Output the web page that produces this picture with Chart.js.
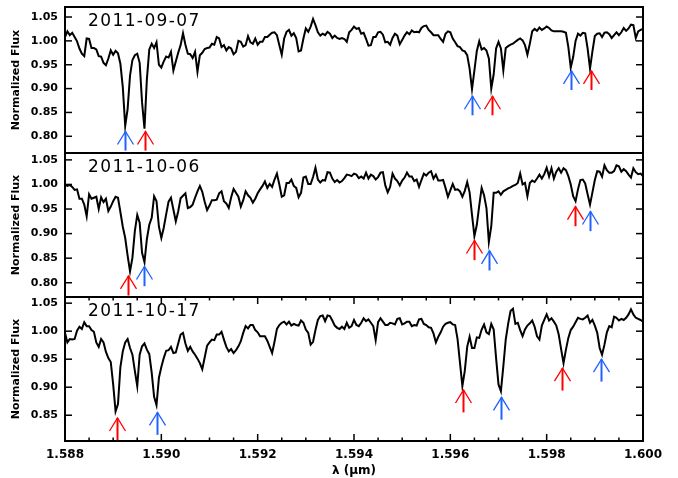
<!DOCTYPE html>
<html>
<head>
<meta charset="utf-8">
<script src="https://cdn.jsdelivr.net/npm/chart.js@4/dist/chart.umd.min.js"></script>
<style>
  html, body { margin: 0; padding: 0; background: #fff; }
  canvas { display: block; }
</style>
</head>
<body>
<canvas id="spectra" width="678" height="478"></canvas>
<script>
// wavelength grid (micron), shared by the three epochs
const wavelength = [
  1.58800, 1.58805, 1.58810, 1.58815, 1.58820, 1.58825, 1.58830, 1.58835, 1.58840, 1.58845, 1.58850, 1.58855, 1.58860, 1.58865, 1.58870, 1.58875, 1.58880, 1.58885, 1.58890, 1.58895,
  1.58900, 1.58905, 1.58910, 1.58915, 1.58920, 1.58925, 1.58930, 1.58935, 1.58940, 1.58945, 1.58950, 1.58955, 1.58960, 1.58965, 1.58970, 1.58975, 1.58980, 1.58985, 1.58990, 1.58995,
  1.59000, 1.59005, 1.59010, 1.59015, 1.59020, 1.59025, 1.59030, 1.59035, 1.59040, 1.59045, 1.59050, 1.59055, 1.59060, 1.59065, 1.59070, 1.59075, 1.59080, 1.59085, 1.59090, 1.59095,
  1.59100, 1.59105, 1.59110, 1.59115, 1.59120, 1.59125, 1.59130, 1.59135, 1.59140, 1.59145, 1.59150, 1.59155, 1.59160, 1.59165, 1.59170, 1.59175, 1.59180, 1.59185, 1.59190, 1.59195,
  1.59200, 1.59205, 1.59210, 1.59215, 1.59220, 1.59225, 1.59230, 1.59235, 1.59240, 1.59245, 1.59250, 1.59255, 1.59260, 1.59265, 1.59270, 1.59275, 1.59280, 1.59285, 1.59290, 1.59295,
  1.59300, 1.59305, 1.59310, 1.59315, 1.59320, 1.59325, 1.59330, 1.59335, 1.59340, 1.59345, 1.59350, 1.59355, 1.59360, 1.59365, 1.59370, 1.59375, 1.59380, 1.59385, 1.59390, 1.59395,
  1.59400, 1.59405, 1.59410, 1.59415, 1.59420, 1.59425, 1.59430, 1.59435, 1.59440, 1.59445, 1.59450, 1.59455, 1.59460, 1.59465, 1.59470, 1.59475, 1.59480, 1.59485, 1.59490, 1.59495,
  1.59500, 1.59505, 1.59510, 1.59515, 1.59520, 1.59525, 1.59530, 1.59535, 1.59540, 1.59545, 1.59550, 1.59555, 1.59560, 1.59565, 1.59570, 1.59575, 1.59580, 1.59585, 1.59590, 1.59595,
  1.59600, 1.59605, 1.59610, 1.59615, 1.59620, 1.59625, 1.59630, 1.59635, 1.59640, 1.59645, 1.59650, 1.59655, 1.59660, 1.59665, 1.59670, 1.59675, 1.59680, 1.59685, 1.59690, 1.59695,
  1.59700, 1.59705, 1.59710, 1.59715, 1.59720, 1.59725, 1.59730, 1.59735, 1.59740, 1.59745, 1.59750, 1.59755, 1.59760, 1.59765, 1.59770, 1.59775, 1.59780, 1.59785, 1.59790, 1.59795,
  1.59800, 1.59805, 1.59810, 1.59815, 1.59820, 1.59825, 1.59830, 1.59835, 1.59840, 1.59845, 1.59850, 1.59855, 1.59860, 1.59865, 1.59870, 1.59875, 1.59880, 1.59885, 1.59890, 1.59895,
  1.59900, 1.59905, 1.59910, 1.59915, 1.59920, 1.59925, 1.59930, 1.59935, 1.59940, 1.59945, 1.59950, 1.59955, 1.59960, 1.59965, 1.59970, 1.59975, 1.59980, 1.59985, 1.59990, 1.59995,
  1.60000
];

// normalized flux, 2011-09-07
const flux0907 = [
  1.008, 1.020, 1.012, 1.017, 1.008, 0.999, 0.984, 0.973, 0.968, 1.005,
  1.004, 0.985, 0.985, 0.982, 0.968, 0.967, 0.954, 0.949, 0.963, 0.980,
  0.971, 0.979, 0.974, 0.952, 0.903, 0.822, 0.857, 0.927, 0.960, 0.970,
  0.973, 0.954, 0.871, 0.816, 0.920, 0.982, 0.994, 0.985, 0.997, 0.950,
  0.944, 0.957, 0.967, 0.965, 0.977, 0.938, 0.957, 0.975, 0.991, 1.016,
  0.992, 0.973, 0.972, 0.964, 0.977, 0.935, 0.970, 0.975, 0.983, 0.985,
  0.986, 0.994, 0.992, 1.008, 1.005, 0.987, 0.991, 0.980, 0.987, 0.984,
  0.972, 0.977, 1.000, 0.998, 0.988, 0.991, 1.010, 0.997, 0.994, 1.005,
  0.992, 0.998, 0.998, 1.008, 1.008, 1.013, 1.017, 1.018, 1.012, 0.991,
  0.971, 1.005, 1.019, 1.023, 1.011, 1.016, 1.006, 0.978, 0.980, 1.005,
  1.026, 1.019, 1.030, 1.046, 1.033, 1.018, 1.011, 1.015, 1.012, 1.019,
  1.015, 1.006, 1.011, 1.006, 1.004, 1.006, 1.004, 0.998, 1.018, 1.023,
  1.030, 1.025, 1.027, 1.015, 1.017, 1.004, 0.990, 0.991, 1.008, 1.008,
  1.018, 1.019, 1.013, 0.997, 0.998, 0.992, 1.006, 1.015, 1.011, 0.993,
  1.002, 1.011, 1.018, 1.014, 1.022, 1.018, 1.019, 1.018, 1.027, 1.031,
  1.032, 1.023, 1.018, 1.012, 1.012, 1.012, 1.004, 0.998, 1.015, 1.020,
  1.018, 1.005, 0.997, 0.989, 0.987, 0.980, 0.978, 0.970, 0.942, 0.899,
  0.938, 0.979, 0.999, 0.982, 0.985, 0.980, 0.963, 0.900, 0.930, 0.984,
  0.998, 0.984, 0.938, 0.985, 0.989, 0.992, 0.994, 0.998, 1.002, 1.005,
  1.001, 0.991, 0.971, 0.994, 1.020, 1.025, 1.021, 1.028, 1.023, 1.026,
  1.030, 1.027, 1.022, 1.020, 1.020, 1.020, 1.020, 1.019, 1.017, 0.987,
  0.944, 0.966, 1.000, 1.015, 1.011, 1.017, 1.016, 0.984, 0.942, 0.978,
  1.010, 1.015, 1.016, 1.008, 1.017, 1.018, 1.014, 1.006, 1.012, 1.018,
  1.012, 1.018, 1.027, 1.021, 1.026, 1.034, 1.033, 1.006, 1.020, 1.023, 1.025
];

// normalized flux, 2011-10-06
const flux1006 = [
  1.000, 0.997, 0.999, 0.995, 0.989, 0.990, 0.971, 0.971, 0.959, 0.935,
  0.980, 0.971, 0.973, 0.975, 0.950, 0.974, 0.964, 0.971, 0.946, 0.955,
  0.966, 0.975, 0.973, 0.944, 0.914, 0.891, 0.855, 0.823, 0.851, 0.905,
  0.938, 0.922, 0.861, 0.842, 0.889, 0.918, 0.932, 0.976, 0.966, 0.914,
  0.891, 0.912, 0.939, 0.965, 0.973, 0.949, 0.925, 0.945, 0.972, 0.977,
  0.982, 0.952, 0.954, 0.959, 0.973, 0.986, 0.997, 0.985, 0.965, 0.948,
  0.957, 0.968, 0.968, 0.969, 0.982, 0.986, 0.966, 0.961, 0.952, 0.974,
  0.991, 0.983, 0.975, 0.955, 0.968, 0.986, 0.978, 0.973, 0.963, 0.971,
  0.982, 0.990, 0.997, 1.006, 0.993, 1.001, 0.995, 1.010, 1.022, 1.000,
  0.975, 0.978, 1.003, 1.003, 1.010, 0.997, 0.993, 0.974, 0.983, 1.014,
  1.016, 1.001, 1.001, 1.015, 1.034, 1.010, 1.004, 1.009, 1.008, 1.025,
  1.024, 1.012, 1.005, 1.009, 1.004, 1.007, 1.013, 1.020, 1.019, 1.017,
  1.022, 1.020, 1.013, 1.016, 1.012, 1.024, 1.012, 1.020, 1.017, 1.010,
  1.015, 1.024, 1.025, 0.998, 0.984, 0.995, 1.022, 1.012, 1.007, 0.998,
  1.008, 1.014, 1.024, 1.016, 1.016, 1.007, 1.010, 0.995, 1.009, 1.022,
  1.018, 1.024, 1.027, 1.012, 1.020, 1.008, 1.008, 1.009, 0.993, 0.975,
  0.988, 1.001, 0.989, 0.990, 0.986, 0.975, 0.987, 1.005, 0.984, 0.938,
  0.895, 0.918, 0.957, 0.993, 0.978, 0.952, 0.883, 0.915, 0.983, 0.983,
  0.986, 0.979, 0.986, 0.989, 0.992, 0.994, 0.997, 0.999, 1.003, 1.022,
  1.000, 1.003, 0.976, 1.003, 1.008, 1.005, 1.012, 1.020, 1.012, 1.021,
  1.034, 1.016, 1.033, 1.012, 1.026, 1.033, 1.024, 1.033, 1.029, 1.017,
  1.000, 0.976, 0.966, 0.990, 1.009, 1.010, 1.002, 0.980, 0.959, 0.984,
  1.009, 1.027, 1.026, 1.016, 1.039, 1.029, 1.024, 1.024, 1.027, 1.039,
  1.037, 1.026, 1.031, 1.027, 1.020, 1.014, 1.033, 1.025, 1.021, 1.022, 1.017
];

// normalized flux, 2011-10-17
const flux1017 = [
  0.997, 0.980, 0.986, 0.985, 0.986, 1.001, 1.008, 1.004, 1.016, 1.009,
  1.009, 1.002, 0.999, 0.980, 0.972, 0.986, 0.980, 0.963, 0.952, 0.945,
  0.905, 0.857, 0.870, 0.936, 0.964, 0.980, 0.986, 0.970, 0.958, 0.929,
  0.902, 0.958, 0.973, 0.978, 0.967, 0.959, 0.926, 0.883, 0.868, 0.917,
  0.936, 0.952, 0.965, 0.966, 0.972, 0.961, 0.962, 0.978, 0.994, 0.997,
  0.978, 0.965, 0.972, 0.964, 0.958, 0.951, 0.943, 0.932, 0.953, 0.974,
  0.980, 0.985, 0.984, 0.994, 0.994, 0.999, 0.985, 0.972, 0.964, 0.968,
  0.961, 0.966, 0.973, 0.982, 0.997, 1.009, 1.005, 1.011, 1.011, 1.002,
  0.998, 0.991, 0.991, 0.991, 0.983, 0.972, 0.961, 0.981, 1.004, 1.011,
  1.015, 1.017, 1.012, 1.017, 1.010, 1.013, 1.011, 1.010, 1.019, 1.015,
  1.003, 0.997, 0.976, 0.981, 1.002, 1.020, 1.027, 1.028, 1.018, 1.028,
  1.027, 1.019, 1.010, 1.006, 1.004, 1.008, 1.004, 1.015, 1.006, 1.009,
  1.020, 1.011, 1.009, 1.015, 1.023, 1.018, 1.021, 1.015, 1.009, 0.984,
  1.016, 1.023, 1.017, 1.011, 1.011, 1.015, 1.014, 1.012, 1.022, 1.023,
  1.012, 1.014, 1.017, 1.017, 1.009, 1.011, 1.010, 1.021, 1.022, 1.013,
  1.011, 1.007, 1.006, 0.996, 0.980, 0.990, 0.998, 1.008, 1.013, 1.015,
  1.016, 1.012, 1.011, 0.986, 0.944, 0.902, 0.929, 0.972, 0.990, 0.970,
  0.970, 0.989, 0.988, 1.003, 1.012, 0.998, 0.995, 1.013, 1.003, 0.952,
  0.905, 0.893, 0.937, 0.985, 1.013, 1.036, 1.040, 1.013, 1.015, 1.002,
  0.991, 1.003, 1.010, 1.014, 1.019, 1.008, 0.991, 0.985, 1.010, 1.020,
  1.030, 1.019, 1.023, 1.017, 1.010, 0.994, 0.968, 0.943, 0.967, 0.988,
  1.002, 1.008, 1.016, 1.024, 1.022, 1.021, 1.024, 1.028, 1.015, 1.020,
  1.010, 0.997, 0.970, 0.958, 0.976, 0.998, 1.009, 1.007, 1.026, 1.024,
  1.019, 1.022, 1.020, 1.024, 1.030, 1.039, 1.030, 1.024, 1.022, 1.020, 1.017
];

const panelDates = ['2011-09-07', '2011-10-06', '2011-10-17'];
const panelFlux = [flux0907, flux1006, flux1017];
const yRanges = [[0.765, 1.071], [0.771, 1.064], [0.804, 1.061]];
const yTicks = [
  [0.80, 0.85, 0.90, 0.95, 1.00, 1.05],
  [0.80, 0.85, 0.90, 0.95, 1.00, 1.05],
  [0.85, 0.90, 0.95, 1.00, 1.05]
];
const xTicks = [1.588, 1.590, 1.592, 1.594, 1.596, 1.598, 1.600];

// line-marking arrows: wavelength, flux at the arrow tip, colour
const arrowLambda = [
  [1.58925, 1.58966, 1.59645, 1.59686, 1.59850, 1.59892],
  [1.58931, 1.58964, 1.59649, 1.59680, 1.59859, 1.59890],
  [1.58908, 1.58991, 1.59626, 1.59705, 1.59832, 1.59913]
];
const arrowTip = [
  [0.810, 0.810, 0.884, 0.884, 0.937, 0.937],
  [0.814, 0.833, 0.886, 0.865, 0.955, 0.945],
  [0.845, 0.855, 0.895, 0.882, 0.934, 0.950]
];
const arrowColor = [
  ['blue', 'red', 'blue', 'red', 'blue', 'red'],
  ['red', 'blue', 'red', 'blue', 'red', 'blue'],
  ['red', 'blue', 'red', 'blue', 'red', 'blue']
];
const arrowLength = 0.04;

const RED = '#ff0000';
const BLUE = '#1f62ff';
const panelIds = ['y1', 'y2', 'y3'];

const tickFont = { family: 'DejaVu Sans', weight: 'bold', size: 11 };

function yScale(p, weight) {
  return {
    type: 'linear',
    position: 'left',
    stack: 'panels',
    stackWeight: weight,
    min: yRanges[p][0],
    max: yRanges[p][1],
    grid: { display: false, drawTicks: false },
    border: { display: false },
    afterBuildTicks: s => { s.ticks = yTicks[p].map(v => ({ value: v })); },
    afterFit: s => {
      s.width = 65;
      // labels sit well inside the panel, no extra room needed above/below
      s.paddingTop = 0;
      s.paddingBottom = 0;
    },
    ticks: {
      color: '#000',
      padding: 7,
      autoSkip: false,
      font: tickFont,
      callback: v => v.toFixed(2)
    },
    title: {
      display: true,
      text: 'Normalized Flux',
      color: '#000',
      font: { family: 'DejaVu Sans', weight: 'bold', size: 11 },
      padding: { top: 10, bottom: 0 }
    }
  };
}

function line(ctx, x1, y1, x2, y2) {
  ctx.beginPath();
  ctx.moveTo(x1, y1);
  ctx.lineTo(x2, y2);
  ctx.stroke();
}

const overlay = {
  id: 'overlay',
  afterDatasetsDraw(chart) {
    const ctx = chart.ctx;
    const area = chart.chartArea;
    const xs = chart.scales.x;
    ctx.save();

    panelIds.forEach((id, p) => {
      const ys = chart.scales[id];

      // arrows
      arrowLambda[p].forEach((lam, i) => {
        const px = Math.round(xs.getPixelForValue(lam)) + 0.5;
        const top = ys.getPixelForValue(arrowTip[p][i]);
        const bottom = ys.getPixelForValue(arrowTip[p][i] - arrowLength);
        ctx.strokeStyle = arrowColor[p][i] === 'red' ? RED : BLUE;
        ctx.lineWidth = 2;
        line(ctx, px, top, px, bottom);
        ctx.lineWidth = 1.3;
        ctx.beginPath();
        ctx.moveTo(px - 8, top + 13);
        ctx.lineTo(px, top);
        ctx.lineTo(px + 8, top + 13);
        ctx.stroke();
      });

      // frame
      ctx.strokeStyle = '#000';
      ctx.lineWidth = 2;
      ctx.strokeRect(area.left, ys.top, area.right - area.left, ys.bottom - ys.top);

      // inward y ticks on both sides
      ctx.lineWidth = 1.5;
      ys.ticks.forEach(t => {
        const py = ys.getPixelForValue(t.value);
        line(ctx, area.left, py, area.left + 7, py);
        line(ctx, area.right - 7, py, area.right, py);
      });

      // epoch label
      ctx.fillStyle = '#000';
      ctx.font = '17px "DejaVu Sans"';
      ctx.letterSpacing = '1.4px';
      ctx.textBaseline = 'alphabetic';
      ctx.fillText(panelDates[p], area.left + 23, ys.top + 19);
      ctx.letterSpacing = '0px';
    });

    // x ticks on the bottom panel (top and bottom edges)
    const last = chart.scales[panelIds[2]];
    ctx.strokeStyle = '#000';
    ctx.lineWidth = 1.5;
    for (let v = xTicks[0]; v <= xTicks[xTicks.length - 1] + 1e-9; v += 0.0005) {
      const px = xs.getPixelForValue(v);
      const major = xTicks.some(t => Math.abs(t - v) < 1e-7);
      const len = major ? 7 : 3.5;
      line(ctx, px, last.bottom, px, last.bottom - len);
      line(ctx, px, last.top, px, last.top + len);
    }
    ctx.restore();
  }
};

new Chart(document.getElementById('spectra'), {
  type: 'line',
  data: {
    datasets: panelFlux.map((flux, p) => ({
      label: panelDates[p],
      data: flux.map((f, i) => ({ x: wavelength[i], y: f })),
      yAxisID: panelIds[p],
      borderColor: '#000',
      borderWidth: 2,
      pointRadius: 0,
      tension: 0,
      fill: false
    }))
  },
  options: {
    responsive: false,
    animation: false,
    devicePixelRatio: 1,
    layout: { padding: { top: 7, right: 35, left: 0, bottom: 0 } },
    plugins: {
      legend: { display: false },
      tooltip: { enabled: false }
    },
    scales: {
      x: {
        type: 'linear',
        position: 'bottom',
        min: 1.588,
        max: 1.600,
        grid: { display: false, drawTicks: false },
        border: { display: false },
        afterBuildTicks: s => { s.ticks = xTicks.map(v => ({ value: v })); },
        afterFit: s => {
          s.height = 37;
          s.paddingLeft = 0;
          s.paddingRight = 0;
        },
        ticks: {
          color: '#000',
          padding: 7,
          maxRotation: 0,
          autoSkip: false,
          font: { family: 'DejaVu Sans', weight: 'bold', size: 12 },
          callback: v => v.toFixed(3)
        },
        title: {
          display: true,
          text: 'λ (μm)',
          color: '#000',
          font: { family: 'DejaVu Sans', weight: 'bold', size: 12 },
          padding: { top: 0, bottom: 0 }
        }
      },
      // stacked left axes are laid out last-defined-first, so the top panel comes last
      y3: yScale(2, 144),
      y2: yScale(1, 144),
      y1: yScale(0, 146)
    }
  },
  plugins: [overlay]
});
</script>
</body>
</html>
